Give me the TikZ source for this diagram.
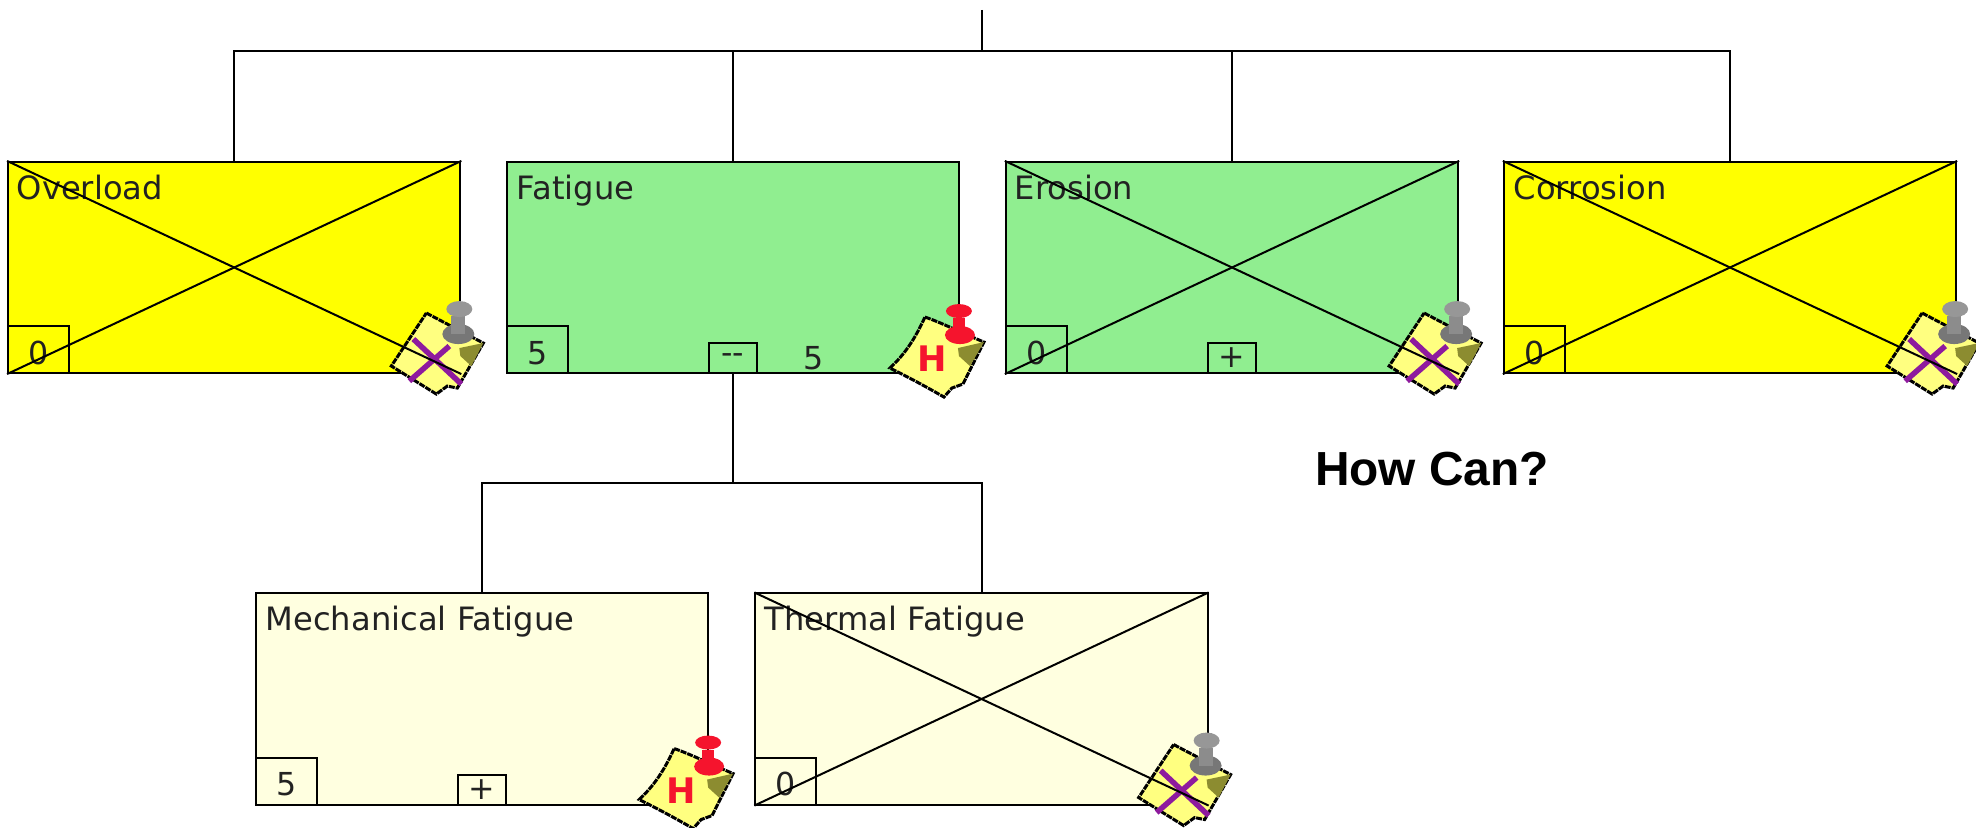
\documentclass[tikz,border=0pt]{standalone}
\usepackage{fontspec}
\setmainfont{DejaVu Sans}
\newfontfamily\howfont{Liberation Sans}
\usepackage{tikz}
\definecolor{causeyellow}{HTML}{FFFF00}
\definecolor{causegreen}{HTML}{90EE90}
\definecolor{causecream}{HTML}{FFFFE0}
\definecolor{notefill}{HTML}{FFFF80}
\definecolor{noteolive}{HTML}{8C8C30}
\definecolor{notecross}{HTML}{8E1A9E}
\definecolor{pingrey}{HTML}{8C8C8C}
\definecolor{pinred}{HTML}{F5142D}
\definecolor{inkdark}{HTML}{222222}
\tikzset{
	cause/.style={draw,line width=0.02cm,minimum width=4.52cm,minimum height=2.11cm,inner sep=0pt},
	countbox/.style={draw,line width=0.02cm,minimum width=0.61cm,minimum height=0.47cm,inner sep=0pt,anchor=south west,text=inkdark,text height=0.38cm,text depth=0.09cm,font=\fontsize{9}{9}\selectfont},
	togglebox/.style={draw,line width=0.02cm,minimum width=0.48cm,minimum height=0.30cm,inner sep=0pt,anchor=south,text=inkdark,font=\fontsize{9}{9}\selectfont},
	causename/.style={anchor=base west,inner sep=0pt,text=inkdark,font=\fontsize{9.15}{10}\selectfont},
	link/.style={line width=0.02cm},
	crossline/.style={line width=0.02cm},
	notegrey/.pic={
		\path [fill=notefill,draw,line width=0.03cm,dash pattern=on 0.06cm off 0.01cm] (-35,-61) -- (22,-31) -- (-4,14) -- (-14,12) -- (-25,20) -- (-70,-8) -- cycle;
		\fill [noteolive] (-2,-26) -- (22,-31) -- (10,-8) -- (-1,-18) -- cycle;
		\draw [notecross,line width=0.055cm] (-48,-35) -- (0,10);
		\draw [notecross,line width=0.055cm] (-12,-28) -- (-52,7);
		\fill [pingrey!85!black] (-3,-40) ellipse (16 and 10);
		\fill [pingrey] (-10,-58) rectangle (4,-40);
		\fill [pingrey!90!white] (-2,-65) ellipse (13 and 8);
	},
	notered/.pic={
		\path [fill=notefill,draw,line width=0.03cm,dash pattern=on 0.06cm off 0.01cm] (-35,-57) .. controls (-20,-52) and (0,-42) .. (24,-32) -- (3,10) -- (-8,14) -- (-16,23) .. controls (-35,12) and (-50,4) .. (-70,-6) .. controls (-55,-20) and (-45,-35) .. cycle;
		\fill [noteolive] (-2,-26) -- (24,-32) -- (10,-8) -- (-1,-18) -- cycle;
		\fill [pinred] (0,-39) ellipse (15 and 9);
		\fill [pinred] (-7,-56) rectangle (5,-39);
		\fill [pinred] (-1,-63) ellipse (13 and 7);
		\node [text=pinred,font=\fontsize{10}{10}\selectfont\bfseries] at (-28,-15) {H};
	}
}

\begin{document}
\begin{tikzpicture}[x=0.01cm,y=-0.01cm]
	\useasboundingbox (0,0) rectangle (1976,828);
	% boxes of the top row
	\node [cause,fill=causeyellow] (Overload) at (234.2,267.5) {};
	\node [cause,fill=causegreen] (Fatigue) at (732.8,267.5) {};
	\node [cause,fill=causegreen] (Erosion) at (1232,267.5) {};
	\node [cause,fill=causeyellow] (Corrosion) at (1730,267.5) {};
	% boxes of the lower row
	\node [cause,fill=causecream] (Mechanical) at (482,699) {};
	\node [cause,fill=causecream] (Thermal) at (981.5,699) {};

	\node [togglebox] (FatigueToggle) at (Fatigue.south) {{-}{-}};
	\node [togglebox] (ErosionToggle) at (Erosion.south) {+};
	\node [togglebox] (MechanicalToggle) at (Mechanical.south) {+};

	% tree lines
	\coordinate (Top) at (982,10);
	\coordinate (TopBus) at (982,51);
	\coordinate (LowBus) at (732.8,483);
	\draw [link] (Top) -- (TopBus);
	\draw [link] (TopBus) -| (Overload.north);
	\draw [link] (TopBus) -| (Fatigue.north);
	\draw [link] (TopBus) -| (Erosion.north);
	\draw [link] (TopBus) -| (Corrosion.north);
	\draw [link] (FatigueToggle.south) -- (LowBus);
	\draw [link] (LowBus) -| (Mechanical.north);
	\draw [link] (LowBus) -| (Thermal.north);

	\node [causename] (OverloadName) at (16,199.5) {Overload};
	\node [causename] (FatigueName) at (516,199.5) {Fatigue};
	\node [causename] (ErosionName) at (1014,199.5) {Erosion};
	\node [causename] (CorrosionName) at (1513,199.5) {Corrosion};
	\node [causename] (MechanicalName) at (265,630.5) {Mechanical Fatigue};
	\node [causename] (ThermalName) at (764,630.5) {Thermal Fatigue};

	\node [countbox] (OverloadCount) at (Overload.south west) {0};
	\node [countbox] (FatigueCount) at (Fatigue.south west) {5};
	\node [countbox] (ErosionCount) at (Erosion.south west) {0};
	\node [countbox] (CorrosionCount) at (Corrosion.south west) {0};
	\node [countbox] (MechanicalCount) at (Mechanical.south west) {5};
	\node [countbox] (ThermalCount) at (Thermal.south west) {0};
	\node [font=\fontsize{9}{9}\selectfont,text=inkdark,inner sep=0pt] (FatigueSum) at (814,358) {5};

	\path (Overload.south east) pic {notegrey};
	\path (Fatigue.south east) pic {notered};
	\path (Erosion.south east) pic {notegrey};
	\path (Corrosion.south east) pic {notegrey};
	\path (Mechanical.south east) pic {notered};
	\path (Thermal.south east) pic {notegrey};

	% crossed out boxes
	\draw [crossline] (Overload.north west) -- (Overload.south east);
	\draw [crossline] (Overload.south west) -- (Overload.north east);
	\draw [crossline] (Erosion.north west) -- (Erosion.south east);
	\draw [crossline] (Erosion.south west) -- (Erosion.north east);
	\draw [crossline] (Corrosion.north west) -- (Corrosion.south east);
	\draw [crossline] (Corrosion.south west) -- (Corrosion.north east);
	\draw [crossline] (Thermal.north west) -- (Thermal.south east);
	\draw [crossline] (Thermal.south west) -- (Thermal.north east);

	\node [font=\howfont\bfseries\fontsize{13.6}{14}\selectfont,inner sep=0pt] (HowCan) at (1432,469) {How Can?};
\end{tikzpicture}
\end{document}
